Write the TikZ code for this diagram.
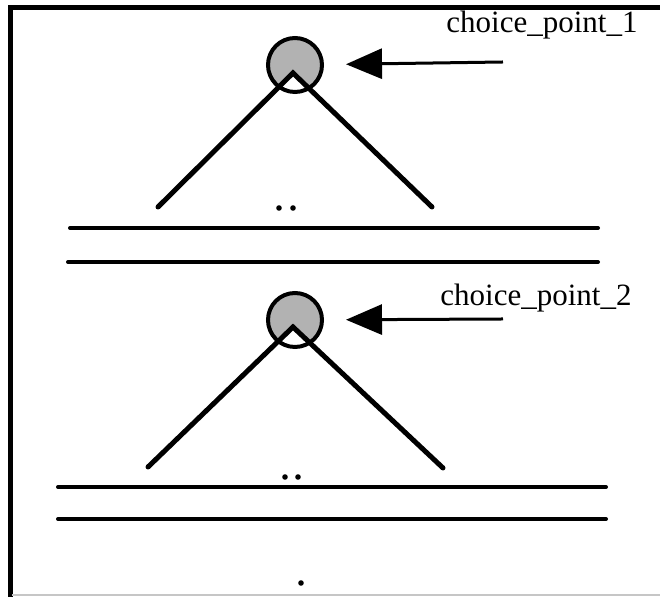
\documentclass[tikz,border=0pt]{standalone}
\usepackage{fontspec}
\setmainfont{Liberation Serif}
\usetikzlibrary{arrows.meta}
\tikzset{
    cp/.style={circle, draw, line width=2pt, fill=black!30, minimum size=27pt, inner sep=0pt},
    branch/.style={line width=2.5pt, line cap=round},
    rule/.style={line width=2pt, line cap=round},
    ptr/.style={-{Triangle[length=18pt,width=15pt]}, line width=1.5pt, shorten >=11pt},
    lbl/.style={inner sep=0pt, anchor=base west, font=\fontsize{15.5}{18}\selectfont}
}

\begin{document}
\begin{tikzpicture}[x=0.5pt,y=-0.5pt]
        \useasboundingbox (0,0) rectangle (660,597);
        \draw[line width=2.5pt] (660,8) -- (10,8) -- (10,597);
        \draw[gray!45, line width=1pt] (12,595) -- (660,595);
        % first choice point
        \coordinate (a1) at (293,73);
        \coordinate (l1) at (158,207);
        \coordinate (r1) at (432,207);
        \node[cp, path picture={\fill[white] (a1) -- (l1) -- (r1) -- cycle;}] (c1) at (295,65) {};
        \draw[branch] (l1) -- (a1) -- (r1);
        \foreach \x in {279,293}
        \fill (\x,208) circle (1.4pt);
        \draw[rule] (70,228) -- (598,228);
        \draw[rule] (68,262) -- (598,262);
        \coordinate (s1) at (503,62);
        \draw[ptr] (s1) -- (c1);
        \node[lbl] (t1) at (446,33) {choice\_point\_1};
        % second choice point
        \coordinate (a2) at (293,327);
        \coordinate (l2) at (148,467);
        \coordinate (r2) at (443,468);
        \node[cp, path picture={\fill[white] (a2) -- (l2) -- (r2) -- cycle;}] (c2) at (295,320) {};
        \draw[branch] (l2) -- (a2) -- (r2);
        \foreach \x in {285,298}
        \fill (\x,477) circle (1.4pt);
        \draw[rule] (58,487) -- (606,487);
        \draw[rule] (58,519) -- (606,519);
        \coordinate (s2) at (503,319);
        \draw[ptr] (s2) -- (c2);
        \node[lbl] (t2) at (440,306) {choice\_point\_2};
        \fill (301,583) circle (1.4pt);
    \end{tikzpicture}
\end{document}
